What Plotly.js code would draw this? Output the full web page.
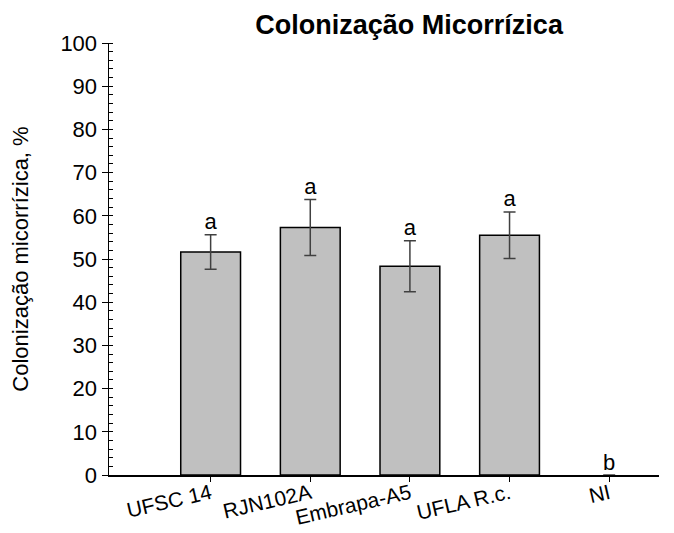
<!DOCTYPE html>
<html><head><meta charset="utf-8">
<script src="https://cdn.plot.ly/plotly-3.0.1.min.js"></script>
<style>body{margin:0;background:#fff}#chart{width:674px;height:533px}</style>
</head><body><div id="chart"></div>
<script>
const categories = ["UFSC 14", "RJN102A", "Embrapa-A5", "UFLA R.c.", "NI"];
const means = [51.6, 57.3, 48.3, 55.5, 0];
const errors = [4.0, 6.5, 5.9, 5.4, 0];
const letters = ["a", "a", "a", "a", "b"];
const yTicks = [0,10,20,30,40,50,60,70,80,90,100];

const font = "Liberation Sans, Arial, sans-serif";
const bars = {
  type: "bar", x: categories, y: means, width: 0.6,
  marker: {color: "#c0c0c0", line: {color: "#000", width: means.map(m => m ? 1.5 : 0)}},
  error_y: {type: "data", array: errors.map((e,i)=> means[i] ? e : null), visible: true, color: "#404040", thickness: 1.5, width: 6},
  hoverinfo: "skip", showlegend: false
};
const labels = {
  type: "scatter", mode: "text", x: categories,
  y: means.map((m,i)=> m + errors[i]), text: letters,
  textposition: "top center", textfont: {family: font, size: 22, color: "#000"},
  showlegend: false, hoverinfo: "skip", cliponaxis: false
};
const layout = {
  width: 674, height: 533,
  margin: {l: 109, r: 15, t: 43, b: 58},
  paper_bgcolor: "#fff", plot_bgcolor: "#fff",
  font: {family: font, size: 22, color: "#000"},
  title: {text: "<b>Colonização Micorrízica</b>", font: {family: font, size: 27, color: "#000"}, x: 0.607, xanchor: "center", y: 0.954, yanchor: "middle"},
  xaxis: {type: "category", range: [-1.02, 4.5], showline: true, linecolor: "#000", linewidth: 1.5,
    ticks: "outside", ticklen: 5, tickcolor: "#000", tickwidth: 1, tickangle: -13, ticklabelstandoff: -8,
    tickfont: {family: font, size: 21, color: "#000"}, showgrid: false, zeroline: false, fixedrange: true},
  yaxis: {range: [0, 100], tickvals: yTicks, showline: true, linecolor: "#000", linewidth: 1.5,
    ticks: "outside", ticklen: 6, tickcolor: "#000", tickwidth: 1,
    minor: {dtick: 2, tick0: 0, ticks: "inside", ticklen: 4, tickcolor: "#000", tickwidth: 1, showgrid: false},
    tickfont: {family: font, size: 22, color: "#000"}, showgrid: false, zeroline: false,
    title: {text: "Colonização micorrízica, %", font: {family: font, size: 22, color: "#000"}, standoff: 25}},
  bargap: 0.4
};
Plotly.newPlot("chart", [bars, labels], layout, {staticPlot: true});
</script></body></html>
